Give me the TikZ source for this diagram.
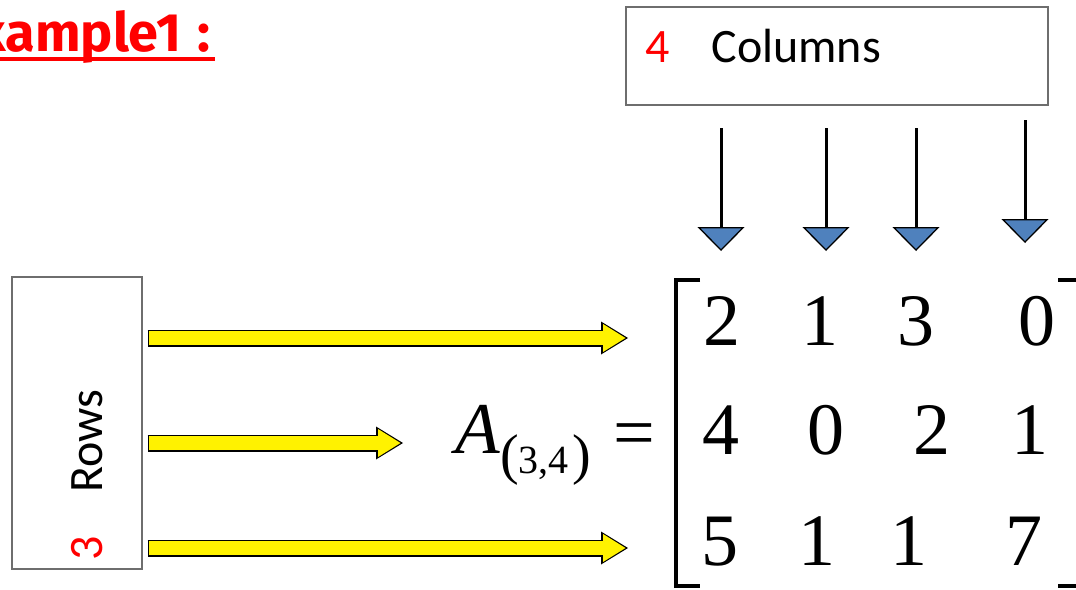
\documentclass[tikz,border=0pt]{standalone}
\usepackage{fontspec}
\setmainfont{Liberation Serif}
\newfontfamily\boxfont{Carlito}
\newfontfamily\titlefont{Fira Sans}
\usepackage{xcolor}
\usepackage{tikz}
\usetikzlibrary{arrows.meta}

\definecolor{headblue}{HTML}{4F81BD}
\definecolor{boxgray}{HTML}{6E6E6E}

\begin{document}
\begin{tikzpicture}[x=1pt, y=-1pt,
    frame/.style    = {draw=boxgray, line width=1.2pt, inner sep=0pt},
    boxtext/.style  = {font=\boxfont\fontsize{48}{48}\selectfont, inner sep=0pt},
    entry/.style    = {font=\fontsize{74}{74}\selectfont, inner sep=0pt, anchor=base},
    colarrow/.style = {line width=3pt,
                       -{Triangle[length=24pt, width=47pt, fill=headblue, line width=1.3pt]}},
    rowedge/.style  = {line width=17pt, -{Triangle[length=27pt, width=33pt, line width=0pt]}},
    rowfill/.style  = {yellow, line width=14pt, shorten <=1.5pt, shorten >=2.5pt,
                       -{Triangle[length=22.5pt, width=28pt, line width=0pt]}},
    brack/.style    = {line width=3.5pt},
  ]
    \useasboundingbox (0,0) rectangle (1076,589);
    \clip (0,0) rectangle (1076,589);

    % --- title ---
    \node[anchor=base east, text=red, inner sep=0pt,
          font=\titlefont\bfseries\fontsize{54}{54}\selectfont] (title) at (211,51) {Example1\hspace{4pt} :};
    \draw[red, line width=3.5pt] ([yshift=-8pt]title.base west) -- ([xshift=4pt, yshift=-8pt]title.base east);

    % --- the two boxes ---
    \node[frame, minimum width=422pt, minimum height=98pt] (cols) at (837,56) {};
    \node[frame, minimum width=130pt, minimum height=292pt] (rows) at (77,423) {};
    \node[boxtext, anchor=base west] (coltxt) at (645,62) {\textcolor{red}{4}\hspace{42pt}Columns};
    \node[boxtext, anchor=base west, rotate=90] (rowtxt) at (102.5,561) {\textcolor{red}{3}\hspace{44pt}Rows};

    % --- column arrows ---
    \foreach \x/\t [count=\i] in {721/128, 826/128, 916/128, 1025/120} {
      \coordinate (ctop\i) at (\x,\t);
      \coordinate (cend\i) at (\x,\t+123);
      \draw[colarrow] (ctop\i) -- (cend\i);
    }

    % --- row arrows ---
    \foreach \y/\e [count=\i] in {338/628, 443/403, 548/628} {
      \coordinate (rs\i) at ([xshift=5pt]rows.east |- 0,\y);
      \coordinate (re\i) at (\e,\y);
      \draw[rowedge] (rs\i) -- (re\i);
      \draw[rowfill] (rs\i) -- (re\i);
    }

    % --- A_(3,4) = ---
    \node[anchor=base west, inner sep=0pt, font=\itshape\fontsize{73}{73}\selectfont] (amat) at (455,453) {A};
    \node[anchor=base west, inner sep=0pt] (asub) at (500,473)
      {{\fontsize{56}{56}\selectfont(}{\fontsize{40}{40}\selectfont 3,4}\hspace{4pt}{\fontsize{56}{56}\selectfont)}};
    \node[entry] (eq) at (634,457) {=};

    % --- matrix entries ---
    \foreach \v/\x [count=\j] in {2/722, 1/820, 3/916, 0/1037}
      \node[entry] (a1\j) at (\x,345) {\v};
    \foreach \v/\x [count=\j] in {4/721, 0/826, 2/932, 1/1030}
      \node[entry] (a2\j) at (\x,454) {\v};
    \foreach \v/\x [count=\j] in {5/720, 1/817, 1/909, 7/1024}
      \node[entry] (a3\j) at (\x,565) {\v};

    % --- brackets ---
    \draw[brack] (700,280) -- (676,280) -- (676,586) -- (700,586);
    \draw[brack] (1058,280) -- (1079,280) -- (1079,586) -- (1058,586);
  \end{tikzpicture}
\end{document}
